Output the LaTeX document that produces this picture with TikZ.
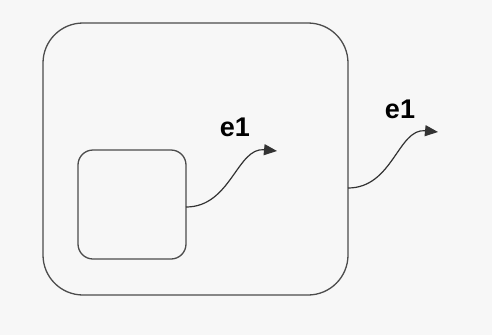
\documentclass[tikz,border=0pt]{standalone}
\usepackage{fontspec}
\setmainfont{Liberation Sans}
\usetikzlibrary{arrows.meta}
\begin{document}
\begin{tikzpicture}[x=1pt,y=-1pt,
  statebox/.style={draw=black!70,line width=1.3pt,inner sep=0pt},
  trans/.style={draw=black!80,line width=1.2pt,-{Triangle[length=13pt,width=11pt]}},
  evlabel/.style={font=\bfseries\fontsize{27}{27}\selectfont,inner sep=0pt}]
\fill[black!3] (0,0) rectangle (492,335);
\useasboundingbox (0,0) rectangle (492,335);
\draw[statebox,rounded corners=40pt] (43,23) rectangle (348,295);
\coordinate (outerR) at (348,188);
\draw[statebox,rounded corners=15pt] (78,150) rectangle (186,259);
\coordinate (innerR) at (186,207);
\coordinate (end1) at (277,151);
\coordinate (end2) at (438,132);
\draw[trans] (innerR) .. controls +(45,0) and +(-40,-4) .. (end1);
\draw[trans] (outerR) .. controls +(45,0) and +(-40,-4) .. (end2);
\node[evlabel] (l1) at (235,127) {e1};
\node[evlabel] (l2) at (400,109) {e1};
\end{tikzpicture}
\end{document}
